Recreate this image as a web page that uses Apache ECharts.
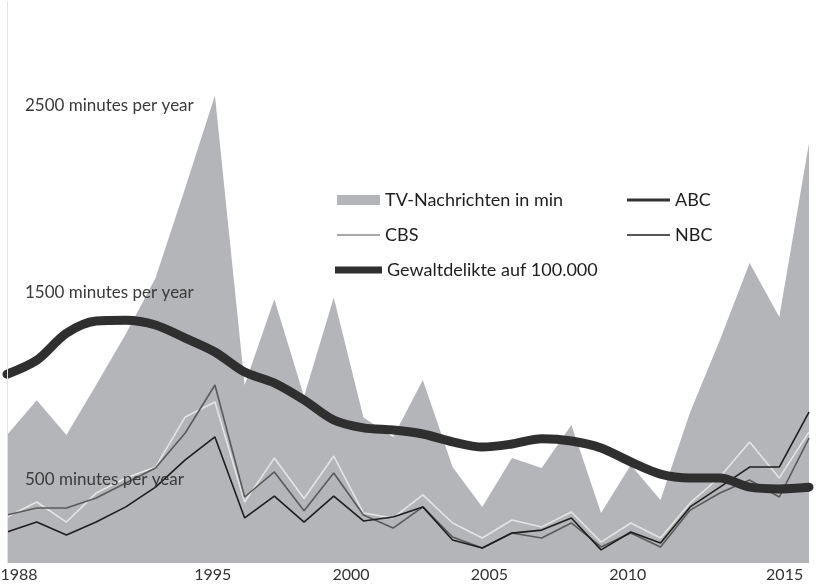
<!DOCTYPE html>
<html>
<head>
<meta charset="utf-8">
<script src="https://cdn.jsdelivr.net/npm/echarts@6/dist/echarts.min.js"></script>
<style>
html,body{margin:0;padding:0;background:#fff;}
#chart{width:817px;height:587px;}
</style>
</head>
<body>
<div id="chart"></div>
<script>
// ---- data ----
var years = [1988,1989,1990,1991,1992,1993,1994,1995,1996,1997,1998,1999,2000,2001,2002,2003,2004,2005,2006,2007,2008,2009,2010,2011,2012,2013,2014,2015];
var tvMinutes = [684,870,684,952,1225,1524,2005,2500,952,1410,890,1420,778,674,979,513,299,561,508,738,267,524,337,807,1193,1604,1316,2246];
var abc = [166,219,150,219,300,406,551,674,241,358,219,358,225,246,300,123,80,160,176,241,70,166,107,300,406,513,513,807];
var cbs = [246,326,219,374,455,513,781,861,326,561,345,572,267,241,364,214,134,230,193,273,112,214,134,321,460,647,455,701];
var nbc = [257,294,294,348,428,508,695,952,353,487,280,481,257,187,300,139,80,160,134,214,86,160,86,283,374,444,353,668];
var crimeRate = [634,666,728,756,758,747,717,685,639,614,575,529,511,506,497,479,467,474,486,481,465,433,405,396,396,375,371,375];
var xTickLabels = [1988,1995,2000,2005,2010,2015];
var yTickValues = [500,1500,2500];
var seriesNames = ['TV-Nachrichten in min','ABC','CBS','NBC','Gewaltdelikte auf 100.000'];

function pairs(vals){ return years.map(function(y,i){ return [y, vals[i]]; }); }

var legendFont = {fontFamily:'Lato, "Open Sans", sans-serif', fontSize:18, color:'#1e1e1e'};
function legendItem(name, left, top, w, h, color){
  return {
    data:[{name:name, icon:'rect', itemStyle:{color:color, borderWidth:0}}],
    left:left, top:top, itemWidth:w, itemHeight:h, itemGap:0, padding:0,
    selectedMode:false, textStyle:legendFont
  };
}

var chart = echarts.init(document.getElementById('chart'), null, {renderer:'canvas'});
chart.setOption({
  animation:false,
  backgroundColor:'#ffffff',
  grid:{left:7, right:8, top:2, bottom:24, containLabel:false, outerBoundsMode:'none'},
  legend:[
    legendItem(seriesNames[0], 337, 191, 43, 10, '#b4b5b8'),
    legendItem(seriesNames[1], 627, 191, 43, 3, '#333333'),
    legendItem(seriesNames[2], 337, 226, 43, 2, '#a8a8a8'),
    legendItem(seriesNames[3], 627, 226, 43, 2, '#555555'),
    legendItem(seriesNames[4], 335, 261, 47, 7, '#2f2f2f')
  ],
  xAxis:[
    {type:'value', min:1988, max:2015, show:false},
    {type:'value', min:1987.566, max:2016.551, position:'bottom',
     axisLine:{show:false}, axisTick:{show:false}, splitLine:{show:false},
     axisLabel:{customValues:xTickLabels, margin:4, color:'#333',
       alignMaxLabel:'left',
       fontFamily:'Lato,sans-serif', fontSize:16,
       formatter:function(v){return String(Math.round(v));}}}
  ],
  yAxis:[
    {type:'value', min:0, max:3000, z:10,
     axisLine:{show:true, lineStyle:{color:'#e3e3e3', width:1}},
     axisTick:{show:false}, splitLine:{show:false},
     axisLabel:{inside:true, margin:18, customValues:yTickValues, align:'left', verticalAlign:'top',
       padding:[2,0,0,0],
       color:'#3a3a3a', fontFamily:'Lato, sans-serif', fontSize:17,
       formatter:function(v){return v + ' minutes per year';}}},
    {type:'value', min:201, max:1488, show:false}
  ],
  series:[
    {name:seriesNames[0], type:'line', data:pairs(tvMinutes), symbol:'none',
     lineStyle:{width:0}, itemStyle:{color:'#b4b5b8'},
     areaStyle:{color:'#b4b5b8', opacity:1}, z:1},
    {name:seriesNames[2], type:'line', data:pairs(cbs), symbol:'none',
     lineStyle:{width:1.6, color:'#e4e4e4'}, itemStyle:{color:'#e4e4e4'}, z:3},
    {name:seriesNames[3], type:'line', data:pairs(nbc), symbol:'none',
     lineStyle:{width:1.6, color:'#5a5a5a'}, itemStyle:{color:'#5a5a5a'}, z:3},
    {name:seriesNames[1], type:'line', data:pairs(abc), symbol:'none',
     lineStyle:{width:1.6, color:'#1e1e1e'}, itemStyle:{color:'#1e1e1e'}, z:4},
    {name:seriesNames[4], type:'line', yAxisIndex:1, data:pairs(crimeRate), symbol:'none', smooth:0.3,
     lineStyle:{width:9, color:'#2f2f2f', cap:'round', join:'round'}, itemStyle:{color:'#2f2f2f'}, z:5}
  ]
});
</script>
</body>
</html>
